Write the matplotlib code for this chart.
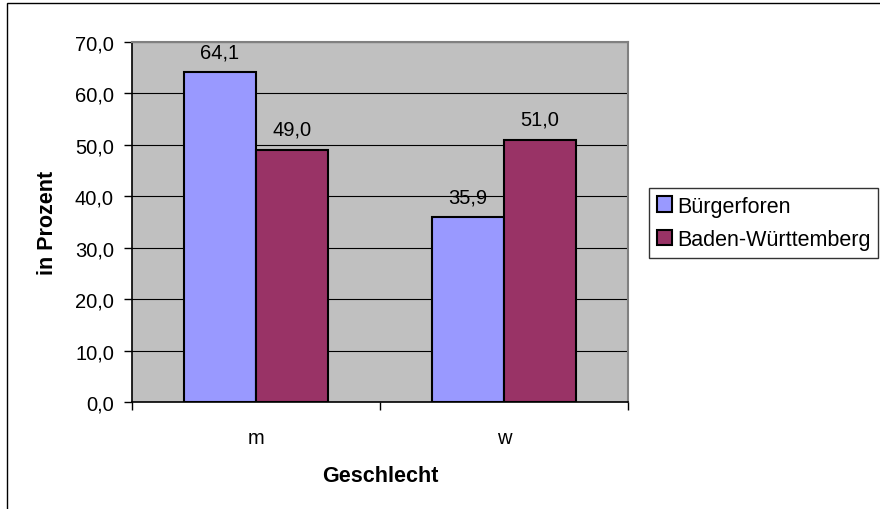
import matplotlib

matplotlib.use("Agg")
import matplotlib.pyplot as plt
from matplotlib.patches import Rectangle
from matplotlib.ticker import FixedLocator, FuncFormatter

categories = ["m", "w"]
series_names = ["Bürgerforen", "Baden-Württemberg"]
buergerforen = [64.1, 35.9]
baden_wuerttemberg = [49.0, 51.0]
y_ticks = [0, 10, 20, 30, 40, 50, 60, 70]

colors = ["#9999FF", "#993366"]

plt.rcParams["font.family"] = ["Liberation Sans", "DejaVu Sans"]

W, H = 880, 510
fig = plt.figure(figsize=(W / 100, H / 100), dpi=100)
ax = fig.add_axes([132 / W, 1 - 403 / H, (628 - 132) / W, (403 - 43) / H])
ax.set_facecolor("#C0C0C0")


def comma(v):
    return f"{v:.1f}".replace(".", ",")


width = 0.29
xs = list(range(len(categories)))
for i, (name, vals) in enumerate(zip(series_names, [buergerforen, baden_wuerttemberg])):
    pos = [x + (i - 0.5) * width for x in xs]
    bars = ax.bar(pos, vals, width, color=colors[i], edgecolor="black", linewidth=1.5,
                  label=name, zorder=3)
    for b, v in zip(bars, vals):
        ax.annotate(comma(v), (b.get_x() + b.get_width() / 2, v),
                    xytext=(0, 11), textcoords="offset points", ha="center", va="baseline",
                    fontsize=14.5)

ax.set_xlim(-0.5, 1.5)
ax.set_ylim(0, 70)
ax.yaxis.set_major_locator(FixedLocator(y_ticks))
ax.yaxis.set_major_formatter(FuncFormatter(lambda v, p: comma(v)))
ax.grid(axis="y", color="black", linewidth=0.8, zorder=1)
ax.set_axisbelow(True)

ax.set_xticks([-0.5, 0.5, 1.5])
ax.set_xticklabels([])
ax.set_xticks(xs, minor=True)
ax.set_xticklabels(categories, minor=True)
ax.tick_params(axis="x", which="minor", length=0, pad=19, labelsize=14.5)
ax.tick_params(axis="x", which="major", length=6, width=1, direction="out")
ax.tick_params(axis="y", length=6, width=1, direction="out", labelsize=14.5, pad=7)

for s in ["top", "right"]:
    ax.spines[s].set_color("#808080")
    ax.spines[s].set_linewidth(1.5)
for s in ["left", "bottom"]:
    ax.spines[s].set_color("black")
    ax.spines[s].set_linewidth(1.2)

ax.set_ylabel("in Prozent", fontsize=15.5, fontweight="bold", labelpad=12)
ax.set_xlabel("Geschlecht", fontsize=15.5, fontweight="bold", labelpad=13)

leg = ax.legend(loc="upper left", bbox_to_anchor=(649 / W, 1 - 189 / H),
                bbox_transform=fig.transFigure, frameon=True, fancybox=False,
                fontsize=15.5, handlelength=0.7, handleheight=0.7, handletextpad=0.25,
                borderpad=0.35, labelspacing=0.6, borderaxespad=0)
leg.get_frame().set_edgecolor("black")
leg.get_frame().set_linewidth(1)
for h in leg.legend_handles:
    h.set_linewidth(1.5)

fig.patches.append(Rectangle((7 / W, -0.01), 1.1, (1 - 4 / H) + 0.01,
                             transform=fig.transFigure, fill=False, edgecolor="black",
                             linewidth=1))

fig.savefig("out.png", dpi=100)
